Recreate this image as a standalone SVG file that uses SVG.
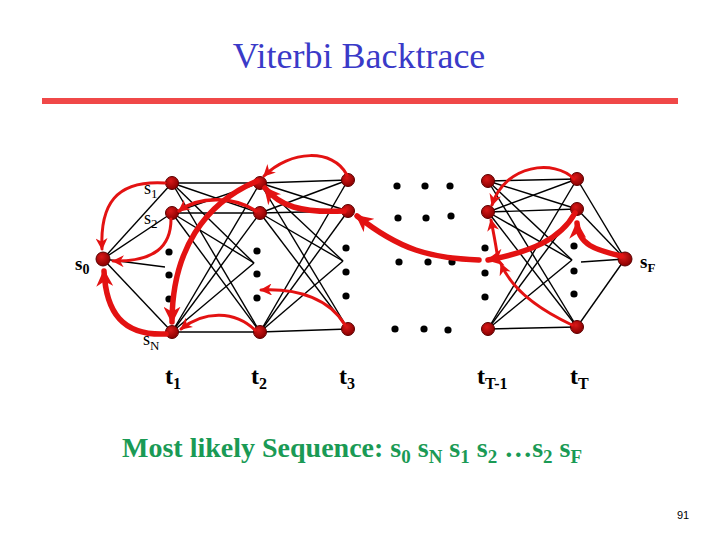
<svg xmlns="http://www.w3.org/2000/svg" width="720" height="540" viewBox="0 0 720 540">
<defs>
<radialGradient id="ng" cx="40%" cy="35%" r="65%">
<stop offset="0" stop-color="#d81818"/>
<stop offset="1" stop-color="#8a0000"/>
</radialGradient>
<marker id="ah" viewBox="0 0 10 10" refX="9" refY="5" markerWidth="12" markerHeight="12" markerUnits="userSpaceOnUse" orient="auto">
<path d="M0,0 L10,5 L0,10 L3,5 z" fill="#e31212"/>
</marker>
<marker id="ahb" viewBox="0 0 10 10" refX="9" refY="5" markerWidth="17" markerHeight="17" markerUnits="userSpaceOnUse" orient="auto">
<path d="M0,0 L10,5 L0,10 L3,5 z" fill="#e31212"/>
</marker>
</defs>
<style>
.node circle{fill:url(#ng);stroke:#5a0000;stroke-width:1}
.dot{fill:#000}
.edge{stroke:#000;stroke-width:1.4;fill:none}
.bt{stroke:#e31212;fill:none;stroke-linecap:round}
.thin{stroke-width:3;marker-end:url(#ah)}
.thick{stroke-width:5.5;marker-end:url(#ahb)}
.lab{font-family:"Liberation Serif","Times New Roman",serif;fill:#000}
.tl{font-family:"Liberation Serif","Times New Roman",serif;font-weight:bold;font-size:24px;fill:#000}
</style>
<rect width="720" height="540" fill="#fff"/>
<text x="359" y="68" text-anchor="middle" font-family="'Liberation Serif','Times New Roman',serif" font-size="36" fill="#3a3ac8">Viterbi Backtrace</text>
<rect x="42" y="98" width="636" height="6" fill="#f04848"/>

<g id="edges">
<!-- s0 to t1 -->
<line class="edge" x1="103" y1="259" x2="172" y2="183"/>
<line class="edge" x1="103" y1="259" x2="172" y2="213"/>
<line class="edge" x1="103" y1="259" x2="172" y2="332"/>
<line class="edge" x1="103" y1="259" x2="165" y2="267"/>
<!-- t1 to t2 -->
<line class="edge" x1="172" y1="183" x2="260" y2="183"/>
<line class="edge" x1="172" y1="183" x2="260" y2="213"/>
<line class="edge" x1="172" y1="183" x2="260" y2="332"/>
<line class="edge" x1="172" y1="183" x2="254" y2="263"/>
<line class="edge" x1="172" y1="213" x2="260" y2="183"/>
<line class="edge" x1="172" y1="213" x2="260" y2="213"/>
<line class="edge" x1="172" y1="213" x2="260" y2="332"/>
<line class="edge" x1="172" y1="213" x2="254" y2="263"/>
<line class="edge" x1="172" y1="332" x2="260" y2="183"/>
<line class="edge" x1="172" y1="332" x2="260" y2="213"/>
<line class="edge" x1="172" y1="332" x2="260" y2="332"/>
<line class="edge" x1="172" y1="332" x2="254" y2="263"/>
<!-- t2 to t3 -->
<line class="edge" x1="260" y1="183" x2="348" y2="180"/>
<line class="edge" x1="260" y1="183" x2="348" y2="211"/>
<line class="edge" x1="260" y1="183" x2="348" y2="329"/>
<line class="edge" x1="260" y1="183" x2="343" y2="261"/>
<line class="edge" x1="260" y1="213" x2="348" y2="180"/>
<line class="edge" x1="260" y1="213" x2="348" y2="211"/>
<line class="edge" x1="260" y1="213" x2="348" y2="329"/>
<line class="edge" x1="260" y1="213" x2="343" y2="261"/>
<line class="edge" x1="260" y1="332" x2="348" y2="180"/>
<line class="edge" x1="260" y1="332" x2="348" y2="211"/>
<line class="edge" x1="260" y1="332" x2="348" y2="329"/>
<line class="edge" x1="260" y1="332" x2="343" y2="261"/>
<!-- tT-1 to tT -->
<line class="edge" x1="488" y1="181" x2="577" y2="179"/>
<line class="edge" x1="488" y1="181" x2="577" y2="209"/>
<line class="edge" x1="488" y1="181" x2="577" y2="327"/>
<line class="edge" x1="488" y1="181" x2="572" y2="260"/>
<line class="edge" x1="488" y1="212" x2="577" y2="179"/>
<line class="edge" x1="488" y1="212" x2="577" y2="209"/>
<line class="edge" x1="488" y1="212" x2="577" y2="327"/>
<line class="edge" x1="488" y1="212" x2="572" y2="260"/>
<line class="edge" x1="488" y1="329" x2="577" y2="179"/>
<line class="edge" x1="488" y1="329" x2="577" y2="209"/>
<line class="edge" x1="488" y1="329" x2="577" y2="327"/>
<line class="edge" x1="488" y1="329" x2="572" y2="260"/>
<!-- tT to sF -->
<line class="edge" x1="577" y1="179" x2="625" y2="259"/>
<line class="edge" x1="577" y1="209" x2="625" y2="259"/>
<line class="edge" x1="577" y1="327" x2="625" y2="259"/>
<line class="edge" x1="625" y1="259" x2="581" y2="262"/>
</g>

<g id="dots">
<circle class="dot" cx="169" cy="252" r="3.6"/>
<circle class="dot" cx="169" cy="275" r="3.6"/>
<circle class="dot" cx="169" cy="299" r="3.6"/>
<circle class="dot" cx="257" cy="251" r="3.6"/>
<circle class="dot" cx="257" cy="274" r="3.6"/>
<circle class="dot" cx="257" cy="298" r="3.6"/>
<circle class="dot" cx="346" cy="248" r="3.6"/>
<circle class="dot" cx="346" cy="272" r="3.6"/>
<circle class="dot" cx="346" cy="296" r="3.6"/>
<circle class="dot" cx="485" cy="248" r="3.6"/>
<circle class="dot" cx="485" cy="273" r="3.6"/>
<circle class="dot" cx="485" cy="297" r="3.6"/>
<circle class="dot" cx="574" cy="246" r="3.6"/>
<circle class="dot" cx="574" cy="271" r="3.6"/>
<circle class="dot" cx="574" cy="294" r="3.6"/>
<circle class="dot" cx="397" cy="186" r="3.6"/>
<circle class="dot" cx="425" cy="186" r="3.6"/>
<circle class="dot" cx="450" cy="186" r="3.6"/>
<circle class="dot" cx="398" cy="218" r="3.6"/>
<circle class="dot" cx="426" cy="218" r="3.6"/>
<circle class="dot" cx="451" cy="216" r="3.6"/>
<circle class="dot" cx="399" cy="262" r="3.6"/>
<circle class="dot" cx="428" cy="262" r="3.6"/>
<circle class="dot" cx="452" cy="262" r="3.6"/>
<circle class="dot" cx="395" cy="329" r="3.6"/>
<circle class="dot" cx="424" cy="329" r="3.6"/>
<circle class="dot" cx="448" cy="330" r="3.6"/>
</g>

<g id="n-s0" class="node"><circle cx="103" cy="259" r="7"/></g>
<g id="n-t1-s1" class="node"><circle cx="172" cy="183" r="6.5"/></g>
<g id="n-t1-s2" class="node"><circle cx="172" cy="213" r="6.5"/></g>
<g id="n-t1-sN" class="node"><circle cx="172" cy="332" r="6.5"/></g>
<g id="n-t2-s1" class="node"><circle cx="260" cy="183" r="6.5"/></g>
<g id="n-t2-s2" class="node"><circle cx="260" cy="213" r="6.5"/></g>
<g id="n-t2-sN" class="node"><circle cx="260" cy="332" r="6.5"/></g>
<g id="n-t3-s1" class="node"><circle cx="348" cy="180" r="6.5"/></g>
<g id="n-t3-s2" class="node"><circle cx="348" cy="211" r="6.5"/></g>
<g id="n-t3-sN" class="node"><circle cx="348" cy="329" r="6.5"/></g>
<g id="n-tT1-s1" class="node"><circle cx="488" cy="181" r="6.5"/></g>
<g id="n-tT1-s2" class="node"><circle cx="488" cy="212" r="6.5"/></g>
<g id="n-tT1-sN" class="node"><circle cx="488" cy="329" r="6.5"/></g>
<g id="n-tT-s1" class="node"><circle cx="577" cy="179" r="6.5"/></g>
<g id="n-tT-s2" class="node"><circle cx="577" cy="209" r="6.5"/></g>
<g id="n-tT-sN" class="node"><circle cx="577" cy="327" r="6.5"/></g>
<g id="n-sF" class="node"><circle cx="625" cy="259" r="7"/></g>

<g id="backtrace">
<path class="bt thin" d="M165,183 C115,180 100,205 102,249"/>
<path class="bt thin" d="M171,219 C171,246 155,262 113,261"/>
<path class="bt thick" d="M166,334 C122,336 106,312 104,271"/>
<path class="bt thick" d="M257,181 C205,203 172,250 172,322"/>
<path class="bt" stroke-width="3.5" marker-end="url(#ah)" d="M256,211 C235,197 200,195 179,211"/>
<path class="bt thin" d="M255,330 C235,311 205,310 181,329"/>
<path class="bt thick" d="M344,211 C300,213 280,206 265,188"/>
<path class="bt thin" d="M347,175 C333,148 290,150 264,176"/>
<path class="bt thin" d="M345,325 C330,300 300,288 261,290"/>
<path class="bt thick" d="M479,260 C430,258 400,250 357,216"/>
<path class="bt thick" d="M575,213 C560,240 530,252 488,260"/>
<path class="bt thick" d="M621,256 C596,250 578,245 577,223"/>
<path class="bt thin" d="M574,179 C555,159 505,164 492,205"/>
<path class="bt thin" d="M497,253 C495,240 493,230 491,220"/>
<path class="bt thin" d="M572,325 C540,310 512,290 501,264"/>
</g>

<g id="labels">
<text class="lab" font-size="18" x="144" y="194">s<tspan font-size="13" dy="4">1</tspan></text>
<text class="lab" font-size="18" x="144" y="224">s<tspan font-size="13" dy="4">2</tspan></text>
<text class="lab" font-size="19" font-weight="bold" x="75" y="270">s<tspan font-size="14" dy="4">0</tspan></text>
<text class="lab" font-size="19" font-weight="bold" x="640" y="268">s<tspan font-size="13" dy="4">F</tspan></text>
<text class="lab" font-size="18" x="143" y="345">s<tspan font-size="13" dy="5">N</tspan></text>
<text class="tl" x="165" y="384">t<tspan font-size="16" dy="5">1</tspan></text>
<text class="tl" x="251" y="384">t<tspan font-size="16" dy="5">2</tspan></text>
<text class="tl" x="339" y="384">t<tspan font-size="16" dy="5">3</tspan></text>
<text class="tl" x="477" y="384">t<tspan font-size="16" dy="5">T-1</tspan></text>
<text class="tl" x="570" y="384">t<tspan font-size="16" dy="5">T</tspan></text>
</g>

<text x="122" y="457" font-family="'Liberation Serif','Times New Roman',serif" font-weight="bold" font-size="28" fill="#1a9a55">Most likely Sequence: s<tspan font-size="19" dy="6">0</tspan><tspan dy="-6"> s</tspan><tspan font-size="19" dy="6">N</tspan><tspan dy="-6"> s</tspan><tspan font-size="19" dy="6">1</tspan><tspan dy="-6"> s</tspan><tspan font-size="19" dy="6">2</tspan><tspan dy="-6"> …s</tspan><tspan font-size="19" dy="6">2</tspan><tspan dy="-6"> s</tspan><tspan font-size="19" dy="6">F</tspan></text>
<text x="677" y="519" font-family="'Liberation Sans',Arial,sans-serif" font-size="11" fill="#000">91</text>
</svg>
